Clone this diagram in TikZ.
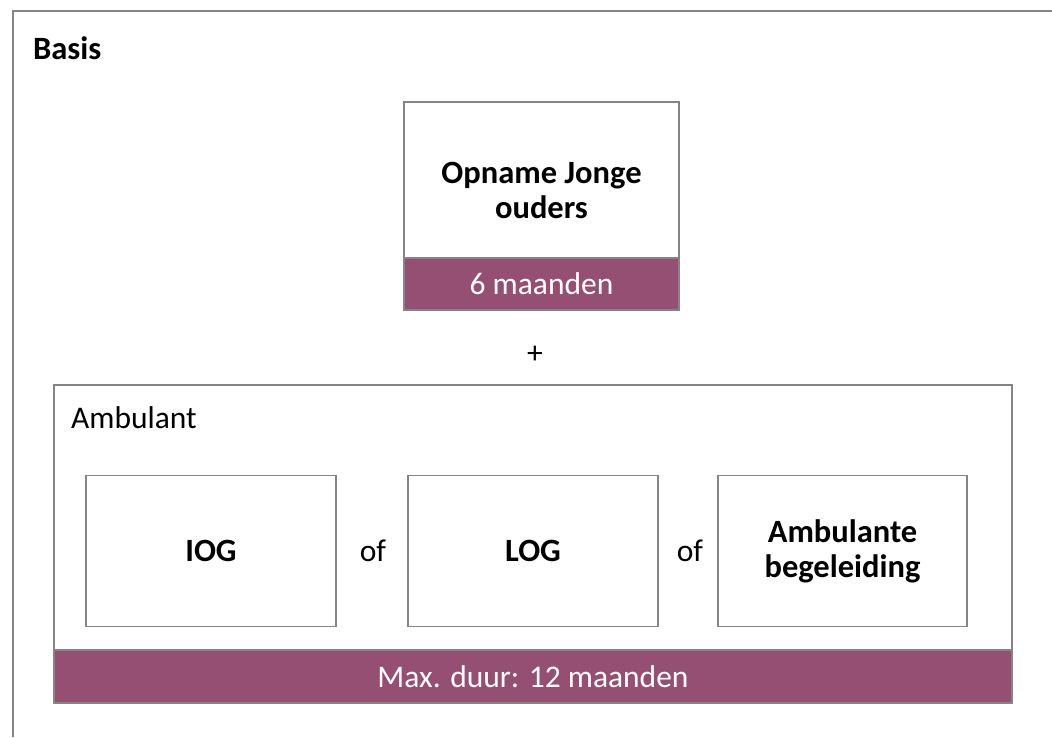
\documentclass[tikz,border=0pt]{standalone}
\usepackage{fontspec}
\setmainfont{Carlito}
\definecolor{bandpurple}{HTML}{954F72}
\definecolor{framegray}{HTML}{858585}
\tikzset{
  box/.style={draw=framegray, line width=1.5pt, fill=white, rectangle, inner sep=0pt},
  band/.style={draw=framegray, line width=2pt, fill=bandpurple, rectangle, inner sep=0pt,
    text=white, font=\fontsize{31.5}{35}\selectfont},
  boldlbl/.style={font=\bfseries\fontsize{32.5}{35}\selectfont, align=center, inner sep=0pt},
  plainlbl/.style={font=\fontsize{31.5}{35}\selectfont, inner sep=0pt},
}
\begin{document}
\begin{tikzpicture}[x=1pt,y=-1pt]
\useasboundingbox (0,0) rectangle (1052,737);
% outer frame (clipped by page)
\draw[framegray, line width=1.5pt] (13,737) -- (13,11) -- (1052,11);
\node[boldlbl, anchor=west] (basis) at (33,48) {Basis};
% Opname box
\node[box, minimum width=275pt, minimum height=156pt] (opname) at (541.5,180) {};
\node[boldlbl] (opnametxt) at (541.5,190) {Opname Jonge\\ouders};
\node[band, minimum width=275pt, minimum height=52pt] (opnameband) at (541.5,284) {6 maanden};
\node[plainlbl] (plus) at (535,355) {+};
% Ambulant box
\node[box, minimum width=958pt, minimum height=265pt] (amb) at (533,517.5) {};
\node[plainlbl, anchor=west] (ambtxt) at (71,418) {Ambulant};
\node[band, minimum width=958pt, minimum height=53pt] (ambband) at (533,676.5) {Max. duur: 12 maanden};
% inner boxes
\node[box, minimum width=250pt, minimum height=151pt, boldlbl] (iog) at (211,551) {IOG};
\node[box, minimum width=250pt, minimum height=151pt, boldlbl] (log) at (533,551) {LOG};
\node[box, minimum width=249pt, minimum height=151pt, boldlbl] (ambbeg) at (842.5,551) {Ambulante\\begeleiding};
\node[plainlbl] (of1) at (373,551) {of};
\node[plainlbl] (of2) at (690,551) {of};
\end{tikzpicture}
\end{document}
